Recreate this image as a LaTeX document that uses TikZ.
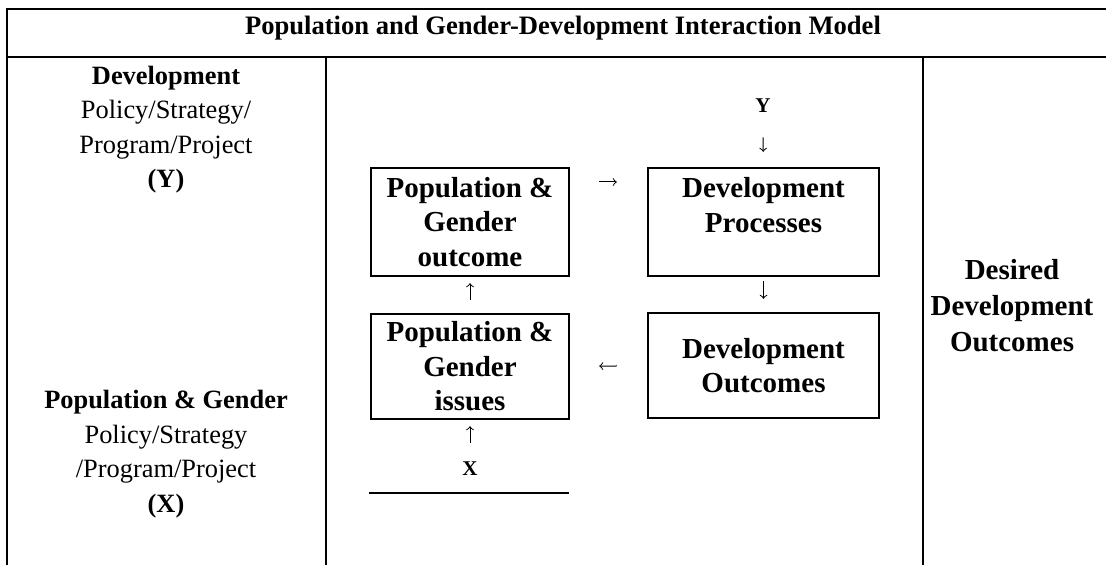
\documentclass[tikz,border=0pt]{standalone}
\usepackage{fontspec}
\setmainfont{Liberation Serif}
\usetikzlibrary{arrows}

\begin{document}
\begin{tikzpicture}[x=0.5pt,y=-0.5pt,
    rule/.style={line width=1.2pt},
    box/.style={draw,line width=1.2pt,align=center,inner sep=0pt,
      font=\fontsize{14.5}{17.25}\selectfont\bfseries},
    side/.style={align=center,font=\fontsize{13.2}{17.25}\selectfont},
    letter/.style={inner sep=2pt,font=\fontsize{10.5}{12}\selectfont\bfseries},
    flow/.style={->,>=to,line width=0.5pt}]
    \useasboundingbox (0,0) rectangle (1106,565);
    % table
    \draw[rule] (7,565) -- (7,9) -- (1106,9);
    \draw[rule] (7,57) -- (1106,57);
    \draw[rule] (326,57) -- (326,565);
    \draw[rule] (923,57) -- (923,565);
    \node[anchor=base,font=\fontsize{13.3}{16}\selectfont\bfseries] (title) at (563,35) {Population and Gender-Development Interaction Model};
    % left column (base = last line)
    \node[side,anchor=base] (devpol) at (166,188) {\textbf{Development}\\Policy/Strategy/\\Program/Project\\\textbf{(Y)}};
    \node[side,anchor=base] (pgpol) at (166,512) {\textbf{Population \& Gender}\\Policy/Strategy\\/Program/Project\\\textbf{(X)}};
    % middle column
    \node[letter,anchor=base] (ylab) at (763,113) {Y};
    \node[box,minimum width=99pt,minimum height=54pt] (pgout) at (470,222) {Population \&\\Gender\\outcome};
    \node[box,minimum width=115.5pt,minimum height=54pt] (devproc) at (763.5,222) {Development\\Processes\\\mbox{}};
    \node[box,minimum width=99pt,minimum height=52.5pt] (pgiss) at (470,366.5) {Population \&\\Gender\\issues};
    \node[box,minimum width=115.5pt,minimum height=52.5pt] (devout) at (763.5,365.5) {Development\\Outcomes};
    \node[letter,anchor=base] (xlab) at (470,476) {X};
    \draw[rule] (369,493) -- (569,493);
    \draw[flow,shorten <=10pt,shorten >=7.5pt] (ylab) -- (devproc);
    \draw[flow,shorten <=2pt,shorten >=6.5pt] (devproc) -- (devout);
    \draw[flow,shorten <=14.5pt,shorten >=15pt] ([yshift=20pt]pgout.east) -- ([yshift=20pt]devproc.west);
    \draw[flow,shorten <=15pt,shorten >=14.5pt] (devout) -- (pgiss);
    \draw[flow,shorten <=6.5pt,shorten >=3pt] (pgiss) -- (pgout);
    \draw[flow,shorten <=7.5pt,shorten >=3pt] (xlab) -- (pgiss);
    % right column
    \node[anchor=base,align=center,font=\fontsize{14.5}{18}\selectfont\bfseries] (goal) at (1012,352) {Desired\\Development\\Outcomes};
\end{tikzpicture}
\end{document}
